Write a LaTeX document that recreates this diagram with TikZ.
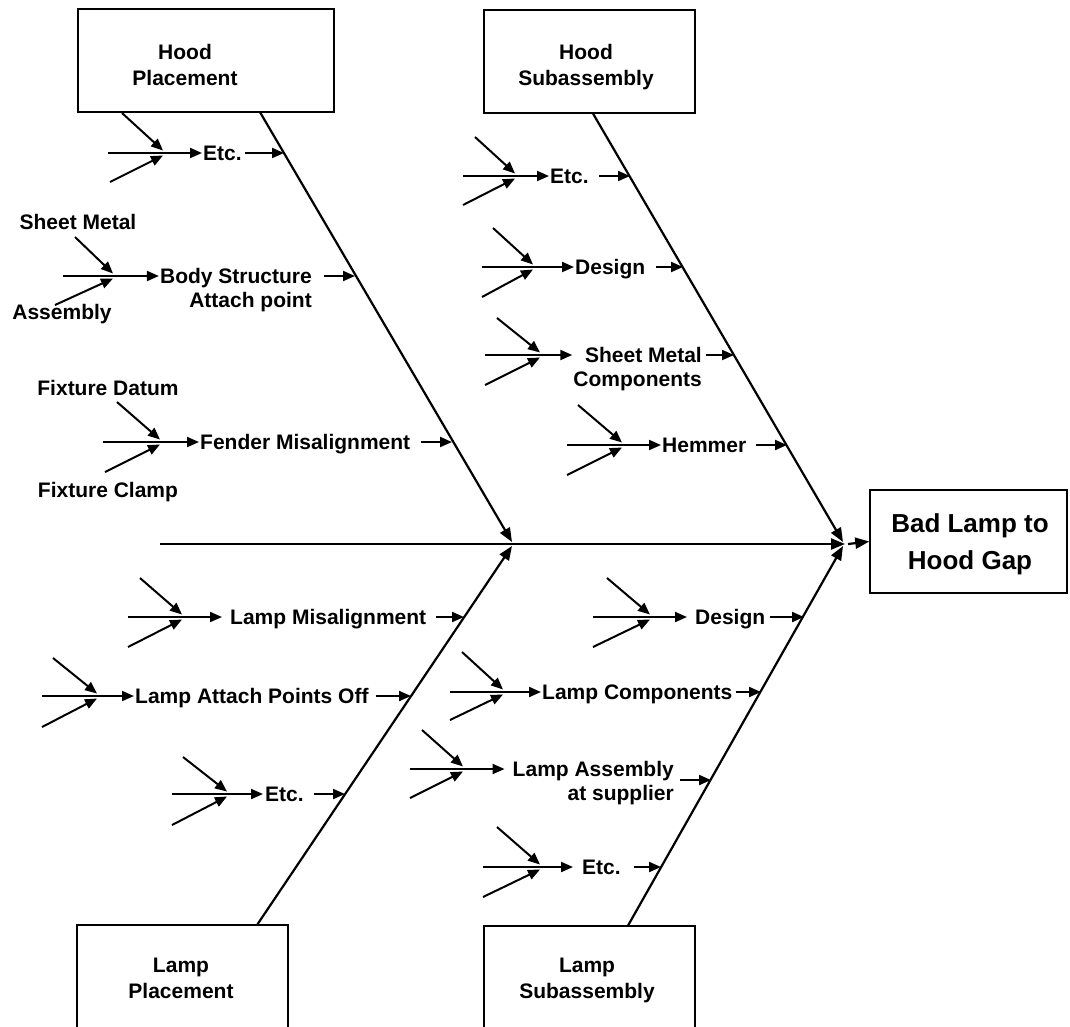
\documentclass[tikz,border=0pt]{standalone}
\usepackage{fontspec}
\setmainfont{Liberation Sans}
\usetikzlibrary{arrows.meta,calc}
% two small causes feeding one junction, their heads just above and below it
\newcommand\inflow[3]{%
  \draw[arr] #2 -- ([yshift=2.5pt]#1);
  \draw[arr] #3 -- ([yshift=-2.5pt]#1);}
\begin{document}
\begin{tikzpicture}[x=1pt,y=-1pt,
  arr/.style={line width=2pt,-{Triangle[length=12pt,width=10pt]}},
  bone/.style={line width=2.2pt,-{Triangle[length=14pt,width=11pt]}},
  box/.style={draw,line width=1.5pt,inner sep=0pt},
  lbl/.style={font=\bfseries\fontsize{21}{24}\selectfont,inner sep=0pt,yshift=-7.5pt},
  btxt/.style={font=\bfseries\fontsize{21}{26}\selectfont,inner sep=0pt,anchor=base,yshift=-7.5pt},
  etxt/.style={font=\bfseries\fontsize{26}{37}\selectfont,inner sep=0pt,anchor=base,yshift=-9.3pt},
]
\useasboundingbox (0,0) rectangle (1070,1026);
\clip (0,0) rectangle (1070,1026);

% ---- category boxes and effect box
\node[box,minimum width=256pt,minimum height=103pt] (hp) at (206,60.5) {};
\node[btxt] (hpt) at (185,52) {\begin{tabular}[t]{@{}c@{}}Hood\\Placement\end{tabular}};
\node[box,minimum width=211pt,minimum height=103pt] (hs) at (589.5,61.5) {};
\node[btxt] (hst) at (586,52) {\begin{tabular}[t]{@{}c@{}}Hood\\Subassembly\end{tabular}};
\node[box,minimum width=211pt,minimum height=140pt] (lp) at (182.5,995) {};
\node[btxt] (lpt) at (181,965) {\begin{tabular}[t]{@{}c@{}}Lamp\\Placement\end{tabular}};
\node[box,minimum width=211pt,minimum height=140pt] (ls) at (589.5,996) {};
\node[btxt] (lst) at (587,965) {\begin{tabular}[t]{@{}c@{}}Lamp\\Subassembly\end{tabular}};
\node[box,minimum width=197pt,minimum height=103pt] (bad) at (968.5,541.5) {};
\node[etxt] (badt) at (970,523) {\begin{tabular}[t]{@{}c@{}}Bad Lamp to\\Hood Gap\end{tabular}};

% ---- spine and main bones
\coordinate (jL) at (512,544);
\coordinate (jR) at (845,544);
\coordinate (tail) at (160,544);
\draw[bone] (tail) -- (jR);
\draw[bone] ([xshift=3pt]jR) -- (bad.west);
\draw[bone] ($(hp.south west)!0.711!(hp.south east)$) -- ([yshift=2pt]jL);
\draw[bone] ($(lp.north west)!0.853!(lp.north east)$) -- ([yshift=-2pt]jL);
\draw[bone] ($(hs.south west)!0.517!(hs.south east)$) -- ([xshift=-2pt,yshift=2pt]jR);
\draw[bone] ($(ls.north west)!0.682!(ls.north east)$) -- ([xshift=-2pt,yshift=-2pt]jR);

% ---- points where the causes meet their bones
\coordinate (e1) at (284,153);   \coordinate (e2) at (355,276);
\coordinate (e3) at (452,442);   \coordinate (e4) at (630,176);
\coordinate (e5) at (683,267);   \coordinate (e6) at (734,355);
\coordinate (e7) at (787,445);   \coordinate (e8) at (464,617);
\coordinate (e9) at (411,696);   \coordinate (e10) at (345,794);
\coordinate (e11) at (804,617);  \coordinate (e12) at (761,692);
\coordinate (e13) at (711,780);  \coordinate (e14) at (661,867);

% ---- Hood Placement causes
\coordinate (j1) at (163,153); \coordinate (s1) at (108,153);
\node[lbl,anchor=base west] (hpE) at (203,153) {Etc.};
\inflow{j1}{(122,113)}{(110,182)}
\draw[arr,shorten >=1pt] (s1) -- (s1 -| hpE.west);
\draw[arr] ([xshift=3pt]hpE.east |- e1) -- (e1);

\coordinate (j2) at (113,276); \coordinate (s2) at (63,276);
\node[lbl,anchor=base] (smc) at (78,222) {Sheet Metal};
\node[lbl,anchor=base] (asc) at (62,312) {Assembly};
\node[lbl,anchor=base east] (bs) at (312,276) {\begin{tabular}[t]{@{}r@{}}Body Structure\\Attach point\end{tabular}};
\inflow{j2}{(75,237)}{(55,305)}
\draw[arr,shorten >=1pt] (s2) -- (s2 -| bs.west);
\draw[arr] ([xshift=12pt]bs.east |- e2) -- (e2);

\coordinate (j3) at (160,442); \coordinate (s3) at (103,442);
\node[lbl,anchor=base] (fdc) at (108,388) {Fixture Datum};
\node[lbl,anchor=base] (fcc) at (108,490) {Fixture Clamp};
\node[lbl,anchor=base west] (fm) at (200,442) {Fender Misalignment};
\inflow{j3}{(117,402)}{(105,472)}
\draw[arr,shorten >=1pt] (s3) -- (s3 -| fm.west);
\draw[arr] ([xshift=11pt]fm.east |- e3) -- (e3);

% ---- Hood Subassembly causes
\coordinate (j4) at (515,176); \coordinate (s4) at (463,176);
\node[lbl,anchor=base west] (hsE) at (550,176) {Etc.};
\inflow{j4}{(475,137)}{(463,205)}
\draw[arr,shorten >=1pt] (s4) -- (s4 -| hsE.west);
\draw[arr] ([xshift=10pt]hsE.east |- e4) -- (e4);

\coordinate (j5) at (533,267); \coordinate (s5) at (482,267);
\node[lbl,anchor=base west] (hsD) at (575,267) {Design};
\inflow{j5}{(493,228)}{(482,297)}
\draw[arr,shorten >=1pt] (s5) -- (s5 -| hsD.west);
\draw[arr] ([xshift=11pt]hsD.east |- e5) -- (e5);

\coordinate (j6) at (540,355); \coordinate (s6) at (485,355);
\node[lbl,anchor=base east] (sm) at (702,355) {\begin{tabular}[t]{@{}r@{}}Sheet Metal\\Components\end{tabular}};
\inflow{j6}{(497,318)}{(485,385)}
\draw[arr,shorten >=1pt] (s6) -- (s6 -| sm.west);
\draw[arr] ([xshift=4pt]sm.east |- e6) -- (e6);

\coordinate (j7) at (622,445); \coordinate (s7) at (567,445);
\node[lbl,anchor=base west] (hm) at (662,445) {Hemmer};
\inflow{j7}{(578,405)}{(567,475)}
\draw[arr,shorten >=1pt] (s7) -- (s7 -| hm.west);
\draw[arr] ([xshift=10pt]hm.east |- e7) -- (e7);

% ---- Lamp Placement causes
\coordinate (j8) at (182,617); \coordinate (s8) at (128,617);
\node[lbl,anchor=base west] (lm) at (230,617) {Lamp Misalignment};
\inflow{j8}{(140,578)}{(128,647)}
\draw[arr,shorten >=8pt] (s8) -- (s8 -| lm.west);
\draw[arr] ([xshift=10pt]lm.east |- e8) -- (e8);

\coordinate (j9) at (97,696); \coordinate (s9) at (42,696);
\node[lbl,anchor=base west] (la) at (135,696) {Lamp Attach Points Off};
\inflow{j9}{(53,658)}{(42,727)}
\draw[arr,shorten >=1pt] (s9) -- (s9 -| la.west);
\draw[arr] ([xshift=7pt]la.east |- e9) -- (e9);

\coordinate (j10) at (227,794); \coordinate (s10) at (172,794);
\node[lbl,anchor=base west] (lpE) at (265,794) {Etc.};
\inflow{j10}{(183,757)}{(172,825)}
\draw[arr,shorten >=2pt] (s10) -- (s10 -| lpE.west);
\draw[arr] ([xshift=10pt]lpE.east |- e10) -- (e10);

% ---- Lamp Subassembly causes
\coordinate (j11) at (650,617); \coordinate (s11) at (593,617);
\node[lbl,anchor=base west] (lsD) at (695,617) {Design};
\inflow{j11}{(607,578)}{(593,647)}
\draw[arr,shorten >=8pt] (s11) -- (s11 -| lsD.west);
\draw[arr] ([xshift=5pt]lsD.east |- e11) -- (e11);

\coordinate (j12) at (503,692); \coordinate (s12) at (450,692);
\node[lbl,anchor=base west] (lc) at (542,692) {Lamp Components};
\inflow{j12}{(462,652)}{(450,720)}
\draw[arr,shorten >=1pt] (s12) -- (s12 -| lc.west);
\draw[arr] ([xshift=3pt]lc.east |- e12) -- (e12);

\coordinate (j13) at (463,769); \coordinate (s13) at (410,769);
\node[lbl,anchor=base east] (lasm) at (674,769) {\begin{tabular}[t]{@{}r@{}}Lamp Assembly\\at supplier\end{tabular}};
\inflow{j13}{(422,730)}{(410,798)}
\draw[arr,shorten >=8pt] (s13) -- (s13 -| lasm.west);
\draw[arr] ([xshift=6pt]lasm.east |- e13) -- (e13);

\coordinate (j14) at (540,867); \coordinate (s14) at (483,867);
\node[lbl,anchor=base west] (lsE) at (582,867) {Etc.};
\inflow{j14}{(497,827)}{(483,897)}
\draw[arr,shorten >=9pt] (s14) -- (s14 -| lsE.west);
\draw[arr] ([xshift=13pt]lsE.east |- e14) -- (e14);
\end{tikzpicture}
\end{document}
